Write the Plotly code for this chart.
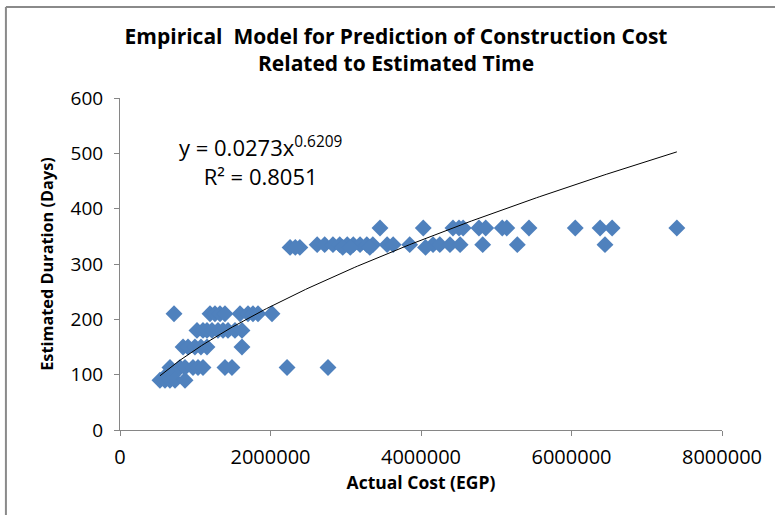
import numpy as np
import plotly.graph_objects as go

# Project records: actual cost (EGP) and estimated duration (days)
cost_egp = [
    531000, 598000, 664000, 731000, 864000,
    620000, 700000,
    664000, 797000, 864000, 970000, 1037000, 1103000, 1395000, 1488000, 2220000, 2764000,
    838000, 904000, 996000, 1076000, 1156000, 1621000,
    1023000, 1103000, 1156000, 1223000, 1302000, 1369000, 1435000, 1528000, 1621000,
    718000, 1196000, 1262000, 1329000, 1395000, 1595000, 1701000, 1767000, 1834000, 2020000,
    2260000, 2390000, 2620000, 2720000, 2830000, 2920000, 3020000, 3100000,
    3190000, 3280000, 3360000, 3550000, 3630000, 3850000, 4160000, 4250000,
    4385000, 4520000, 4820000, 5280000, 6445000,
    2330000, 2960000, 3060000, 3320000, 4060000,
    3455000, 4030000, 4425000, 4505000, 4560000, 4770000, 4860000, 5080000,
    5140000, 5435000, 6050000, 6380000, 6540000, 7400000,
]
duration_days = [
    90, 90, 90, 90, 90,
    100, 100,
    113, 113, 113, 113, 113, 113, 113, 113, 113, 113,
    150, 150, 150, 150, 150, 150,
    180, 180, 180, 180, 180, 180, 180, 180, 180,
    210, 210, 210, 210, 210, 210, 210, 210, 210, 210,
    330, 330, 335, 335, 335, 335, 335, 335,
    335, 335, 335, 335, 335, 335, 335, 335,
    335, 335, 335, 335, 335,
    330, 330, 330, 330, 330,
    365, 365, 365, 365, 365, 365, 365, 365,
    365, 365, 365, 365, 365, 365,
]

# Fitted power trend: y = a * x^b
fit_a = 0.0273
fit_b = 0.6209
fit_r2 = 0.8051

x_tick_vals = [0, 2000000, 4000000, 6000000, 8000000]
y_tick_vals = [0, 100, 200, 300, 400, 500, 600]

x_fit = np.linspace(min(cost_egp), max(cost_egp), 200)
y_fit = fit_a * x_fit ** fit_b

FONT = "Open Sans"
AXIS_GRAY = "#868686"

fig = go.Figure()
fig.add_trace(go.Scatter(
    x=cost_egp, y=duration_days, mode="markers",
    marker=dict(symbol="diamond", size=13, color="#4F81BD", line=dict(width=0)),
    showlegend=False, hoverinfo="x+y",
))
fig.add_trace(go.Scatter(
    x=x_fit, y=y_fit, mode="lines",
    line=dict(color="#000000", width=1),
    showlegend=False, hoverinfo="skip",
))

fig.update_layout(
    width=775, height=515,
    margin=dict(l=120, r=53, t=98, b=85),
    paper_bgcolor="white", plot_bgcolor="white",
    font=dict(family=FONT, color="#000000"),
    title=dict(
        text="<b>Empirical  Model for Prediction of Construction Cost<br>Related to Estimated Time</b>",
        x=0.511, xanchor="center", y=0.915, yanchor="middle",
        font=dict(family=FONT, size=21, color="#000000"),
    ),
    xaxis=dict(
        range=[0, 8000000], tickvals=x_tick_vals,
        ticktext=[str(v) for v in x_tick_vals],
        showgrid=False, zeroline=False,
        showline=True, linecolor=AXIS_GRAY, linewidth=1,
        ticks="outside", ticklen=5, tickcolor=AXIS_GRAY,
        ticklabelstandoff=4,
        tickfont=dict(family=FONT, size=20, color="#000000"),
        title=dict(text="<b>Actual Cost (EGP)</b>", standoff=7,
                   font=dict(family=FONT, size=17.5, color="#000000")),
    ),
    yaxis=dict(
        range=[0, 600], tickvals=y_tick_vals,
        showgrid=False, zeroline=False,
        showline=True, linecolor=AXIS_GRAY, linewidth=1,
        ticks="outside", ticklen=5, tickcolor=AXIS_GRAY,
        ticklabelstandoff=7,
        tickfont=dict(family=FONT, size=19, color="#000000"),
        title=dict(text="<b>Estimated Duration (Days)</b>", standoff=12,
                   font=dict(family=FONT, size=16.3, color="#000000")),
    ),
    annotations=[
        # trend-line equation and goodness of fit
        dict(
            text=f"y = {fit_a}x<sup>{fit_b}</sup><br>R² = {fit_r2}",
            xref="paper", yref="paper", x=0.2326, y=0.809,
            xanchor="center", yanchor="middle", align="center", showarrow=False,
            font=dict(family=FONT, size=22, color="#000000"),
        ),
    ],
    shapes=[
        # chart-area frame (left and top edges)
        dict(type="line", xref="paper", yref="paper",
             x0=-0.1895, x1=-0.1895, y0=-0.3, y1=1.2741,
             line=dict(color="#8a8a8a", width=2)),
        dict(type="line", xref="paper", yref="paper",
             x0=-0.1895, x1=1.2, y0=1.2741, y1=1.2741,
             line=dict(color="#8a8a8a", width=2)),
    ],
)

fig.write_html("out.html")
